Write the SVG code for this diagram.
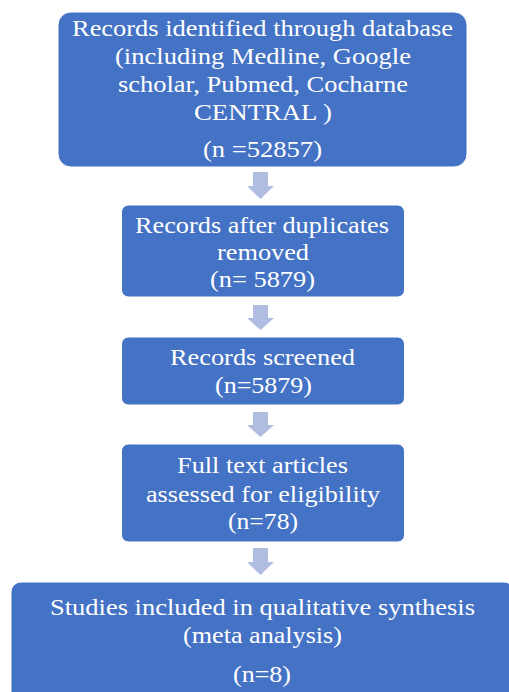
<svg xmlns="http://www.w3.org/2000/svg" width="509" height="692" viewBox="0 0 509 692">
<style>
.box{fill:#4472C4;stroke:#ffffff;stroke-width:1}
.t{font-family:"Liberation Serif","Times New Roman",serif;font-size:23px;fill:#ffffff;text-anchor:middle}
.arr{fill:#B0BCE0}
</style>
<rect width="509" height="692" fill="#ffffff"/>
<g id="connectors">
<path class="arr" d="M253,172 H268 V186 H274 L260.5,199 L247,186 H253 Z"/>
<path class="arr" d="M253,305 H268 V318 H274 L260.5,330 L247,318 H253 Z"/>
<path class="arr" d="M253,412 H268 V425 H274 L260.5,437 L247,425 H253 Z"/>
<path class="arr" d="M253,548 H268 V562 H274 L260.5,575 L247,562 H253 Z"/>
</g>
<g id="node1">
<rect class="box" x="58" y="12" width="409" height="155" rx="13"/>
<text class="t" x="262.5" y="36" textLength="381" lengthAdjust="spacingAndGlyphs">Records identified through database</text>
<text class="t" x="263" y="64" textLength="296" lengthAdjust="spacingAndGlyphs">(including Medline, Google</text>
<text class="t" x="263" y="92" textLength="290" lengthAdjust="spacingAndGlyphs">scholar, Pubmed, Cocharne</text>
<text class="t" x="263" y="120" textLength="138" lengthAdjust="spacingAndGlyphs">CENTRAL )</text>
<text class="t" x="262.5" y="157" textLength="119" lengthAdjust="spacingAndGlyphs">(n =52857)</text>
</g>
<g id="node2">
<rect class="box" x="121.5" y="205" width="283" height="92" rx="7"/>
<text class="t" x="262" y="233" textLength="254" lengthAdjust="spacingAndGlyphs">Records after duplicates</text>
<text class="t" x="263" y="260" textLength="92" lengthAdjust="spacingAndGlyphs">removed</text>
<text class="t" x="262.5" y="287" textLength="105" lengthAdjust="spacingAndGlyphs">(n= 5879)</text>
</g>
<g id="node3">
<rect class="box" x="121.5" y="337" width="283" height="68" rx="7"/>
<text class="t" x="262.5" y="365" textLength="185" lengthAdjust="spacingAndGlyphs">Records screened</text>
<text class="t" x="263.5" y="393" textLength="97" lengthAdjust="spacingAndGlyphs">(n=5879)</text>
</g>
<g id="node4">
<rect class="box" x="121.5" y="444" width="283" height="98" rx="7"/>
<text class="t" x="262.5" y="473" textLength="171" lengthAdjust="spacingAndGlyphs">Full text articles</text>
<text class="t" x="263" y="502" textLength="234" lengthAdjust="spacingAndGlyphs">assessed for eligibility</text>
<text class="t" x="263" y="529" textLength="70" lengthAdjust="spacingAndGlyphs">(n=78)</text>
</g>
<g id="node5">
<rect class="box" x="11" y="582" width="503" height="130" rx="10"/>
<text class="t" x="262.5" y="615" textLength="425" lengthAdjust="spacingAndGlyphs">Studies included in qualitative synthesis</text>
<text class="t" x="262.5" y="643" textLength="159" lengthAdjust="spacingAndGlyphs">(meta analysis)</text>
<text class="t" x="262" y="682" textLength="58" lengthAdjust="spacingAndGlyphs">(n=8)</text>
</g>
</svg>
